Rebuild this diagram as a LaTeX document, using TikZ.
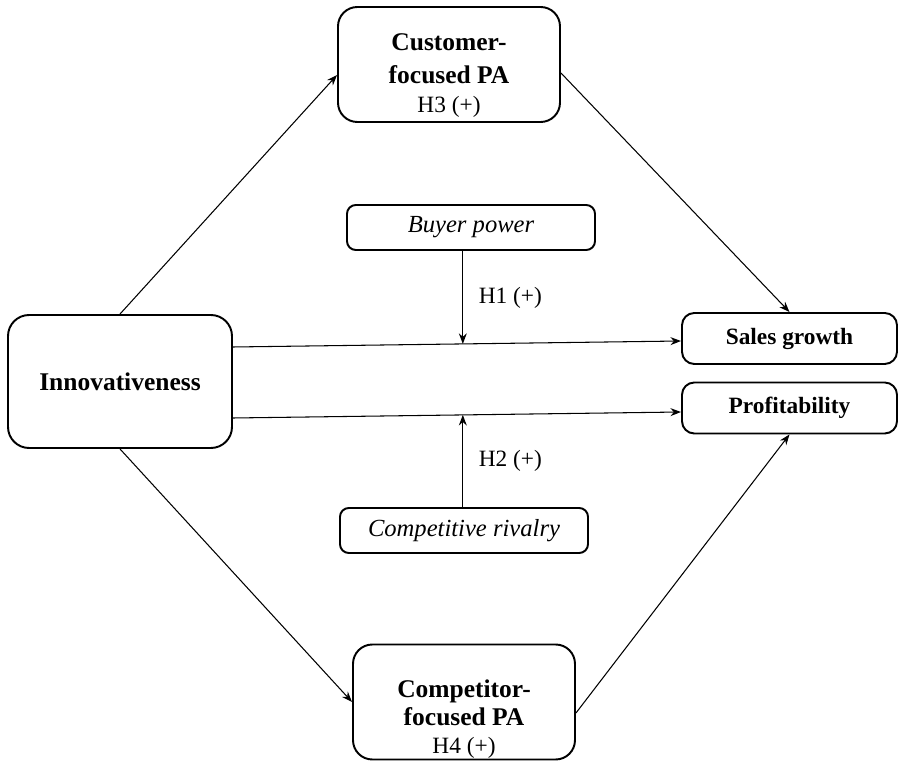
\documentclass[tikz,border=0pt]{standalone}
\usepackage{fontspec}
\setmainfont{Liberation Serif}
\usetikzlibrary{arrows.meta}

\begin{document}
\begin{tikzpicture}
\tikzstyle{every node}=[inner sep=0pt, align=center, line width=1.1pt]
\tikzstyle{pabox}=[draw, rounded corners=11pt, minimum width=4.44cm, minimum height=2.3cm, font=\fontsize{14.5}{19}\selectfont\bfseries]
\tikzstyle{mainbox}=[draw, rounded corners=12pt, minimum width=4.48cm, minimum height=2.66cm, font=\fontsize{14.5}{19}\selectfont\bfseries]
\tikzstyle{outbox}=[draw, rounded corners=7pt, minimum width=4.30cm, minimum height=1.02cm, font=\fontsize{13.3}{16}\selectfont\bfseries]
\tikzstyle{modbox}=[draw, rounded corners=5pt, minimum width=4.96cm, minimum height=0.9cm, font=\fontsize{14}{17}\selectfont\itshape]
\tikzstyle{hlabel}=[font=\fontsize{13.3}{16}\selectfont]
\tikzstyle{link}=[-{Stealth[length=6pt,width=4.5pt]}, line width=0.6pt]
\useasboundingbox (0,0) rectangle (18,-15.22);
% boxes
\draw (2.40,-7.63) node (innov) [mainbox] {Innovativeness};
\draw (8.98,-1.29) node (cust) [pabox] {\rule{0pt}{22pt}Customer-\\focused PA\\[-3pt]{\normalfont\fontsize{13.3}{16}\selectfont H3 (+)}};
\draw (9.28,-14.04) node (comp) [pabox] {\rule{0pt}{30pt}Competitor-\\[-3pt]focused PA\\[-3pt]{\normalfont\fontsize{13.3}{16}\selectfont H4 (+)}};
\draw (9.42,-4.55) node (buyer) [modbox] {Buyer power};
\draw (9.28,-10.61) node (rival) [modbox] {Competitive rivalry};
\draw (15.79,-6.77) node (sales) [outbox] {Sales growth};
\draw (15.79,-8.16) node (prof) [outbox] {Profitability};
% paths
\draw[link] (innov.north) -- ([yshift=-0.21cm]cust.west);
\draw[link] ([yshift=-0.17cm]cust.east) -- (sales.north);
\draw[link] ([yshift=0.69cm]innov.east) -- coordinate[pos=0.513] (m1) ([yshift=-0.05cm]sales.west);
\draw[link] ([yshift=-0.73cm]innov.east) -- coordinate[pos=0.513] (m2) ([yshift=-0.08cm]prof.west);
\draw[link] (m1 |- buyer.south) -- node[hlabel, anchor=west, xshift=0.3cm] (h1) {H1 (+)} (m1);
\draw[link] (m2 |- rival.north) -- node[hlabel, anchor=west, xshift=0.3cm] (h2) {H2 (+)} (m2);
\draw[link] (innov.south) -- (comp.west);
\draw[link] ([yshift=-0.22cm]comp.east) -- (prof.south);
\end{tikzpicture}
\end{document}
